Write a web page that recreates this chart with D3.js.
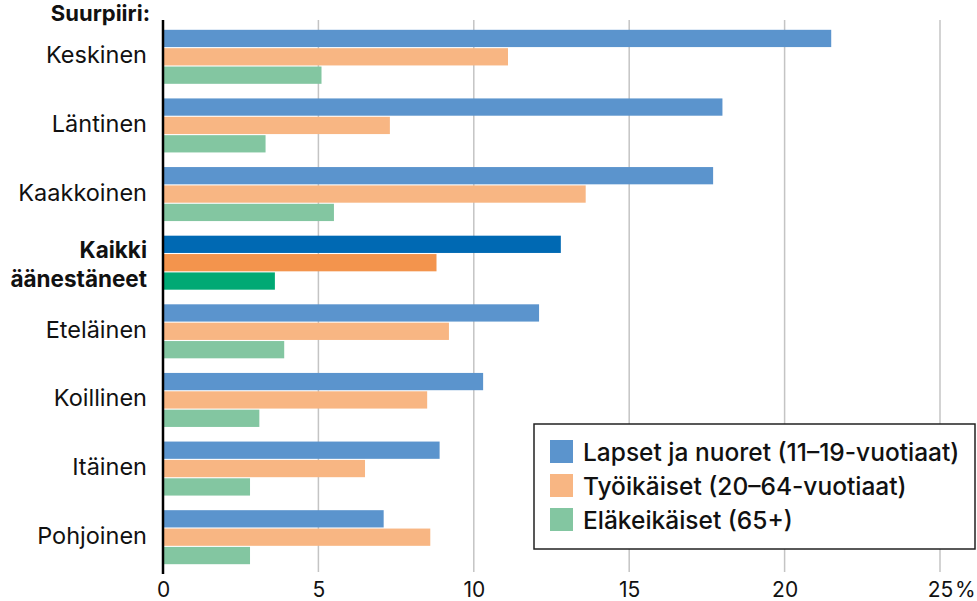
<!DOCTYPE html>
<html>
<head>
<meta charset="utf-8">
<script src="https://cdn.jsdelivr.net/npm/d3@7"></script>
<style>
  body { margin: 0; background: #fff; }
  svg text { font-family: Inter, "Noto Sans", sans-serif; fill: #111; }
</style>
</head>
<body>
<div id="plot"></div>
<script>
// data
var districts = ["Keskinen", "Läntinen", "Kaakkoinen", "Kaikki äänestäneet",
                 "Eteläinen", "Koillinen", "Itäinen", "Pohjoinen"];
var seriesNames = ["Lapset ja nuoret (11–19-vuotiaat)",
                   "Työikäiset (20–64-vuotiaat)",
                   "Eläkeikäiset (65+)"];
var youth   = [21.5, 18.0, 17.7, 12.8, 12.1, 10.3, 8.9, 7.1];
var working = [11.1, 7.3, 13.6, 8.8, 9.2, 8.5, 6.5, 8.6];
var retired = [5.1, 3.3, 5.5, 3.6, 3.9, 3.1, 2.8, 2.8];
var xTicks = [0, 5, 10, 15, 20, 25];

var totalRow = "Kaikki äänestäneet";
var colors = ["#5b94cd", "#f8b683", "#83c6a1"];
var strongColors = ["#0069b3", "#f3944d", "#00a974"];

var width = 977, height = 601;
var margin = {top: 20, right: 37, bottom: 29, left: 163};

var data = [];
for (var i = 0; i < districts.length; i++) {
    data.push({name: districts[i], values: [youth[i], working[i], retired[i]]});
}

var x = d3.scaleLinear()
    .domain([0, 25])
    .range([margin.left, width - margin.right]);

var y = d3.scaleBand()
    .domain(districts)
    .range([margin.top + 2.5, height - margin.bottom - 0.5])
    .paddingInner(0.213)
    .paddingOuter(0.1065);

var ySub = d3.scaleBand()
    .domain([0, 1, 2])
    .range([0, y.bandwidth()])
    .paddingInner(0.06);

var svg = d3.select('#plot')
    .append('svg')
    .attr('width', width)
    .attr('height', height);

// grid lines
svg.append('g')
    .selectAll('line')
    .data(xTicks.slice(1))
    .enter().append('line')
    .attr('x1', function (d) { return x(d); })
    .attr('x2', function (d) { return x(d); })
    .attr('y1', margin.top)
    .attr('y2', height - margin.bottom)
    .style('stroke', '#c4c4c4')
    .style('stroke-width', 1.5);

// bars
var groups = svg.append('g')
    .selectAll('g')
    .data(data)
    .enter().append('g')
    .attr('transform', function (d) { return 'translate(0,' + y(d.name) + ')'; });

groups.selectAll('rect')
    .data(function (d) {
        return d.values.map(function (v, k) { return {v: v, k: k, total: d.name == totalRow}; });
    })
    .enter().append('rect')
    .attr('x', x(0))
    .attr('y', function (d) { return ySub(d.k); })
    .attr('height', ySub.bandwidth())
    .attr('width', function (d) { return x(d.v) - x(0); })
    .style('fill', function (d) { return d.total ? strongColors[d.k] : colors[d.k]; });

// x axis labels
var xAxis = d3.axisBottom(x)
    .tickValues(xTicks)
    .tickSize(0)
    .tickPadding(10)
    .tickFormat(d3.format('d'));

var xg = svg.append('g')
    .attr('transform', 'translate(0,' + (height - margin.bottom) + ')')
    .call(xAxis);
xg.select('.domain').remove();
xg.selectAll('text')
    .style('font-size', '21px')
    .style('font-family', 'Inter, sans-serif')
    .attr('dy', '0.72em');

svg.append('text')
    .attr('x', x(25) + 15)
    .attr('y', height - margin.bottom + 10)
    .attr('dy', '0.72em')
    .style('font-size', '21px')
    .text('%');

// y axis line
svg.append('line')
    .attr('x1', x(0)).attr('x2', x(0))
    .attr('y1', margin.top)
    .attr('y2', height - margin.bottom + 2)
    .style('stroke', '#000')
    .style('stroke-width', 2.5);

// category labels
var labels = svg.append('g')
    .selectAll('text')
    .data(districts)
    .enter().append('text')
    .attr('x', 147)
    .attr('y', function (d) { return y(d) + y.bandwidth() / 2; })
    .attr('text-anchor', 'end');

labels.each(function (d) {
    var t = d3.select(this);
    if (d == totalRow) {
        t.style('font-size', '22.5px').style('font-weight', 'bold');
        t.append('tspan').attr('x', 147).attr('dy', -5).text('Kaikki');
        t.append('tspan').attr('x', 147).attr('dy', 29).text('äänestäneet');
    } else {
        t.style('font-size', '23.5px').style('font-weight', 400)
            .attr('dy', 6.5).text(d);
    }
});

svg.append('text')
    .attr('x', 150)
    .attr('y', 21)
    .attr('text-anchor', 'end')
    .style('font-size', '22px')
    .style('font-weight', 'bold')
    .text('Suurpiiri:');

// legend
var lg = svg.append('g').attr('transform', 'translate(534,424)');
lg.append('rect')
    .attr('width', 441)
    .attr('height', 125)
    .style('fill', '#fff')
    .style('stroke', '#222')
    .style('stroke-width', 1.5);

var items = lg.selectAll('.legend')
    .data(seriesNames)
    .enter().append('g')
    .attr('class', 'legend')
    .attr('transform', function (d, i) { return 'translate(16,' + (16 + i * 34) + ')'; });

items.append('rect')
    .attr('width', 23)
    .attr('height', 23)
    .style('fill', function (d, i) { return colors[i]; });

items.append('text')
    .attr('x', 33)
    .attr('y', 20.5)
    .style('font-size', '24.5px')
    .style('font-weight', 500)
    .text(function (d) { return d; });
</script>
</body>
</html>
